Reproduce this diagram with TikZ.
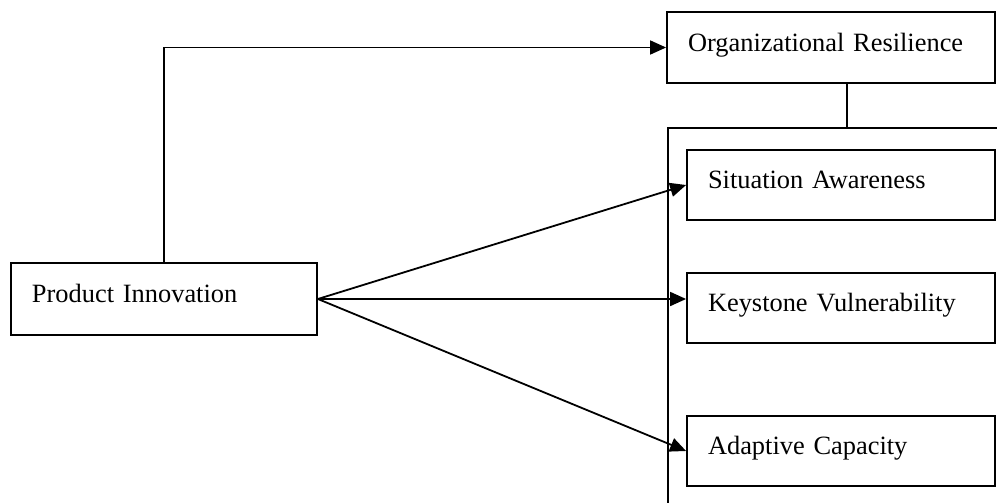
\documentclass[tikz,border=0pt]{standalone}
\usepackage{fontspec}
\setmainfont{Liberation Serif}
\usetikzlibrary{arrows.meta}

\tikzset{
    factor/.style={draw, line width=0.9pt, rectangle, inner xsep=10.5pt, align=left,
        text height=2.6ex, text depth=1.8ex, font=\fontsize{13.2}{15}\selectfont},
    link/.style={line width=0.9pt, -{Triangle[length=8pt,width=7pt]}}
}

\begin{document}
\begin{tikzpicture}[x=0.5pt, y=-0.5pt]
        \useasboundingbox (0,0) rectangle (997,503);

        \node[factor, minimum width=164pt, minimum height=35.5pt, text width=143pt] (OR) at (831,47.5) {Organizational Resilience};
        \node[factor, minimum width=153pt, minimum height=36pt, text width=132pt] (PI) at (164,299) {Product Innovation};

        % dimensions of resilience
        \node[factor, minimum width=154pt, minimum height=35pt, text width=133pt] (SA) at (841,185) {Situation Awareness};
        \node[factor, minimum width=154pt, minimum height=35pt, text width=133pt] (KV) at (841,308) {Keystone Vulnerability};
        \node[factor, minimum width=154pt, minimum height=35pt, text width=133pt] (AC) at (841,451) {Adaptive Capacity};

        % group frame, cut by the page edge
        \coordinate (grp) at (668,128);
        \coordinate (grpTop) at (847,128);
        \draw[line width=0.9pt] (997,128) -- (grp) -- (668,503);
        \draw[line width=0.9pt] (grpTop) -- (grpTop |- OR.south);

        \draw[link] (PI.north) |- (OR.west);
        \draw[link] (PI.east) -- (SA.west);
        \draw[link] (PI.east) -- (PI.east -| KV.west);
        \draw[link] (PI.east) -- (AC.west);
    \end{tikzpicture}
\end{document}
